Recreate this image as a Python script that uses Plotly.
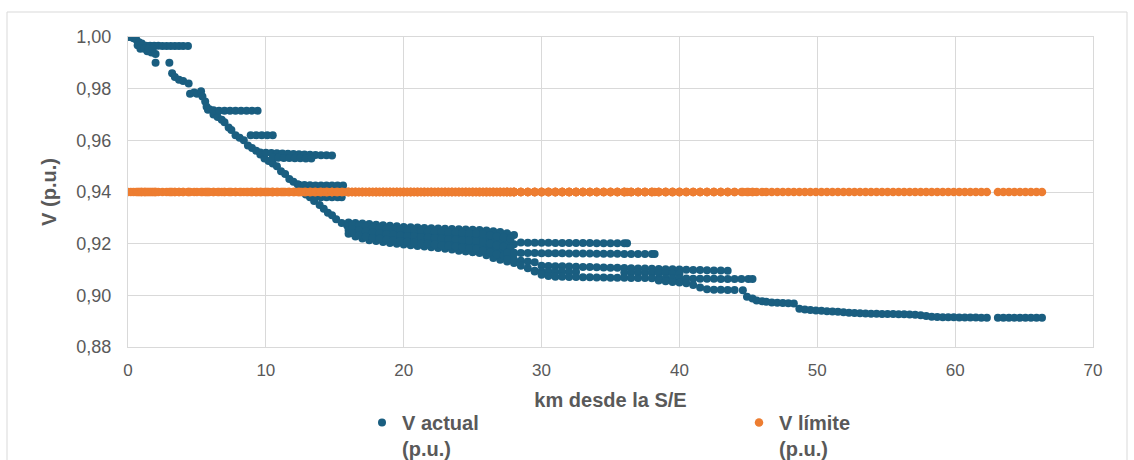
import plotly.graph_objects as go

# ---- data (km from substation, voltage p.u.) ----
km_trunk = [0.0, 0.2, 0.4, 0.6, 0.8, 1.0, 1.2, 1.4, 1.7, 2.0, 2.0, 3.0, 3.2, 3.4, 3.7, 4.0, 4.4, 4.5, 4.8, 5.0,
            5.3, 5.4, 5.6, 5.7, 5.9, 6.2, 6.5, 6.8, 7.0, 7.3, 7.5, 7.8, 8.1, 8.4, 8.7, 9.0, 9.3, 9.6, 9.9, 10.2,
            10.5, 10.8, 11.1, 11.4, 11.7, 12.0, 12.3, 12.6, 12.9, 13.2, 13.5, 13.9, 14.2, 14.5, 14.8, 15.1, 15.5, 15.9]
v_trunk = [1.000, 1.000, 0.9995, 0.999, 0.998, 0.9975, 0.996, 0.9945, 0.994, 0.9934, 0.990, 0.990, 0.986, 0.9845, 0.9835, 0.983, 0.982, 0.978, 0.9785, 0.978,
           0.979, 0.977, 0.975, 0.973, 0.972, 0.970, 0.969, 0.968, 0.967, 0.965, 0.964, 0.962, 0.961, 0.960, 0.958, 0.957, 0.956, 0.9545, 0.953, 0.952,
           0.951, 0.950, 0.948, 0.947, 0.945, 0.944, 0.943, 0.941, 0.939, 0.938, 0.9365, 0.935, 0.9335, 0.932, 0.931, 0.9295, 0.928, 0.927]

km_b1 = [0.7, 1.0, 1.3, 1.6, 1.9, 2.2, 2.5, 2.8, 3.1, 3.4, 3.7, 4.0, 4.35, 0.9, 1.2, 1.5, 1.8]
v_b1 = [0.9968, 0.9967, 0.9966, 0.9966, 0.9966, 0.9966, 0.9965, 0.9965, 0.9965, 0.9965, 0.9965, 0.9965, 0.9965,
        0.9955, 0.9955, 0.9955, 0.9955]

km_b2 = [5.8, 6.2, 6.6, 7.0, 7.4, 7.8, 8.2, 8.6, 9.0, 9.4]
v_b2 = [0.9718, 0.9716, 0.9715, 0.9715, 0.9715, 0.9715, 0.9715, 0.9715, 0.9715, 0.9715]

km_b3 = [8.9, 9.3, 9.7, 10.1, 10.5]
v_b3 = [0.9620, 0.9620, 0.9620, 0.9620, 0.9620]

km_b4 = [9.6, 10.0, 10.4, 10.8, 11.2, 11.6, 12.0, 12.4, 12.8, 13.2, 13.6, 14.0, 14.4, 14.8,
         10.5, 10.9, 11.3, 11.7, 12.1, 12.5, 12.9, 13.3]
v_b4 = [0.9553, 0.9552, 0.9551, 0.9550, 0.9549, 0.9548, 0.9547, 0.9546, 0.9545, 0.9544, 0.9543, 0.9542, 0.9542, 0.9541,
        0.9533, 0.9533, 0.9532, 0.9532, 0.9531, 0.9531, 0.9530, 0.9530]

km_b5 = [12.4, 12.8, 13.2, 13.6, 14.0, 14.4, 14.8, 15.2, 15.6, 13.6, 14.0, 14.4, 14.8, 15.2, 15.5]
v_b5 = [0.9428, 0.9427, 0.9426, 0.9425, 0.9425, 0.9425, 0.9425, 0.9425, 0.9425, 0.9380, 0.9380, 0.9380, 0.9380, 0.9380, 0.9380]

km_band = [16.0, 16.5, 17.0, 17.5, 18.0, 18.5, 19.0, 19.5, 20.0, 20.5, 21.0, 21.5, 22.0, 22.5, 23.0, 23.5, 24.0,
           24.5, 25.0, 25.5, 26.0, 26.5, 27.0, 27.5, 28.0]
v_band_top = [0.9282, 0.9280, 0.9278, 0.9276, 0.9273, 0.9271, 0.9269, 0.9267, 0.9265, 0.9264, 0.9263, 0.9261, 0.9260,
              0.9259, 0.9258, 0.9257, 0.9256, 0.9255, 0.9254, 0.9253, 0.9251, 0.9248, 0.9245, 0.9240, 0.9234]
v_band_mid1 = [0.9267, 0.9263, 0.9259, 0.9255, 0.9252, 0.9249, 0.9247, 0.9245, 0.9242, 0.9241, 0.9239, 0.9237, 0.9235,
               0.9234, 0.9232, 0.9230, 0.9228, 0.9227, 0.9225, 0.9223, 0.9219, 0.9214, 0.9209, 0.9204, 0.9198]
v_band_mid2 = [0.9253, 0.9245, 0.9239, 0.9234, 0.9231, 0.9228, 0.9225, 0.9222, 0.9220, 0.9217, 0.9215, 0.9213, 0.9211,
               0.9208, 0.9206, 0.9204, 0.9201, 0.9198, 0.9196, 0.9194, 0.9187, 0.9179, 0.9174, 0.9167, 0.9161]
v_band_bot = [0.9238, 0.9228, 0.9220, 0.9213, 0.9210, 0.9206, 0.9203, 0.9200, 0.9197, 0.9194, 0.9191, 0.9189, 0.9186,
              0.9183, 0.9180, 0.9177, 0.9173, 0.9170, 0.9167, 0.9164, 0.9155, 0.9145, 0.9138, 0.9131, 0.9125]

km_band_half = [16.25, 16.75, 17.25, 17.75, 18.25, 18.75, 19.25, 19.75, 20.25, 20.75, 21.25, 21.75, 22.25, 22.75,
                23.25, 23.75, 24.25, 24.75, 25.25, 25.75, 26.25, 26.75, 27.25, 27.75]
v_half_a = [0.9273, 0.9270, 0.9267, 0.9264, 0.9261, 0.9259, 0.9257, 0.9255, 0.9253, 0.9252, 0.9250, 0.9248, 0.9247,
            0.9246, 0.9244, 0.9243, 0.9242, 0.9240, 0.9239, 0.9237, 0.9233, 0.9229, 0.9225, 0.9219]
v_half_b = [0.9257, 0.9252, 0.9247, 0.9243, 0.9240, 0.9237, 0.9235, 0.9232, 0.9230, 0.9228, 0.9226, 0.9224, 0.9222,
            0.9220, 0.9218, 0.9216, 0.9214, 0.9212, 0.9210, 0.9206, 0.9200, 0.9194, 0.9189, 0.9183]
v_half_c = [0.9241, 0.9233, 0.9227, 0.9222, 0.9219, 0.9216, 0.9213, 0.9210, 0.9207, 0.9204, 0.9202, 0.9200, 0.9197,
            0.9194, 0.9192, 0.9189, 0.9186, 0.9183, 0.9180, 0.9175, 0.9167, 0.9159, 0.9153, 0.9146]

km_r1 = [28.5, 29.0, 29.5, 30.0, 30.5, 31.0, 31.5, 32.0, 32.5, 33.0, 33.5, 34.0, 34.5, 35.0, 35.5, 36.0, 36.2]
v_r1 = [0.9205, 0.9204, 0.9204, 0.9204, 0.9204, 0.9203, 0.9203, 0.9203, 0.9203, 0.9203, 0.9203, 0.9202, 0.9202,
        0.9202, 0.9202, 0.9202, 0.9202]

km_r2 = [27.5, 28.0, 28.5, 29.0, 29.5, 30.0, 30.5, 31.0, 31.5, 32.0, 32.5, 33.0, 33.5, 34.0, 34.5, 35.0, 35.5,
         36.0, 36.5, 37.0, 37.5, 38.0, 38.2]
v_r2 = [0.9165, 0.9165, 0.9164, 0.9164, 0.9164, 0.9163, 0.9163, 0.9163, 0.9163, 0.9162, 0.9162, 0.9162, 0.9162,
        0.9161, 0.9161, 0.9161, 0.9161, 0.9160, 0.9160, 0.9160, 0.9160, 0.9160, 0.9160]

km_r3 = [27.5, 28.0, 28.5, 29.0, 29.5]
v_r3 = [0.9140, 0.9137, 0.9134, 0.9131, 0.9128]

km_r4 = [30.0, 30.5, 31.0, 31.5, 32.0, 32.5, 33.0, 33.5, 34.0, 34.5, 35.0, 35.5, 36.0, 36.5, 37.0, 37.5, 38.0,
         38.5, 39.0, 39.5, 40.0, 40.5, 41.0, 41.5, 42.0, 42.5, 43.0, 43.5]
v_r4 = [0.9115, 0.9114, 0.9113, 0.9113, 0.9112, 0.9111, 0.9110, 0.9110, 0.9109, 0.9108, 0.9107, 0.9107, 0.9106,
        0.9105, 0.9104, 0.9104, 0.9103, 0.9102, 0.9101, 0.9101, 0.9100, 0.9099, 0.9098, 0.9098, 0.9097, 0.9096,
        0.9096, 0.9095]

km_r5 = [29.5, 30.0, 30.5, 31.0, 31.5, 32.0, 32.5, 36.0, 36.5, 37.0, 37.5, 38.0, 38.5, 39.0, 39.5, 40.0]
v_r5 = [0.9092, 0.9092, 0.9092, 0.9091, 0.9091, 0.9090, 0.9090, 0.9088, 0.9088, 0.9088, 0.9087, 0.9087, 0.9086,
        0.9086, 0.9085, 0.9085]

km_r6 = [28.5, 29.0, 29.5, 30.0, 30.5, 31.0, 31.5, 32.0, 32.5, 33.0, 33.5, 34.0, 34.5, 35.0, 35.5, 36.0, 36.5,
         37.0, 37.5, 38.0, 38.5, 39.0, 39.5, 40.0, 40.5, 41.0, 41.5, 42.0, 42.5, 43.0, 43.5, 44.0, 44.5, 45.0, 45.3]
v_r6 = [0.9115, 0.9105, 0.9095, 0.9080, 0.9075, 0.9072, 0.9072, 0.9071, 0.9071, 0.9070, 0.9070, 0.9069, 0.9069,
        0.9068, 0.9068, 0.9068, 0.9067, 0.9067, 0.9067, 0.9066, 0.9066, 0.9066, 0.9065, 0.9065, 0.9065, 0.9064,
        0.9064, 0.9064, 0.9064, 0.9063, 0.9063, 0.9063, 0.9063, 0.9063, 0.9063]

km_r7 = [38.5, 39.0, 39.5, 40.0, 40.5, 41.0, 41.5, 42.0, 42.5, 43.0, 43.5, 44.0, 44.6]
v_r7 = [0.9057, 0.9055, 0.9052, 0.9050, 0.9047, 0.9040, 0.9030, 0.9024, 0.9022, 0.9022, 0.9021, 0.9021, 0.9020]

km_tail = [44.9, 45.3, 45.6, 46.0, 46.3, 46.7, 47.1, 47.5, 47.9, 48.3, 48.7, 49.1, 49.5, 49.9, 50.3, 50.7, 51.1,
           51.5, 51.9, 52.3, 52.7, 53.1, 53.5, 53.9, 54.3, 54.7, 55.1, 55.5, 55.9, 56.3, 56.7, 57.1, 57.5, 57.9,
           58.3, 58.7, 59.1, 59.5, 59.9, 60.3, 60.7, 61.1, 61.5, 61.9, 62.3, 63.1, 63.5, 63.9, 64.3, 64.7, 65.1,
           65.5, 65.9, 66.3]
v_tail = [0.8995, 0.8988, 0.8980, 0.8977, 0.8975, 0.8972, 0.8971, 0.8970, 0.8969, 0.8968, 0.8948, 0.8945, 0.8943,
          0.8941, 0.8940, 0.8938, 0.8937, 0.8936, 0.8935, 0.8933, 0.8932, 0.8931, 0.8930, 0.8929, 0.8929, 0.8928,
          0.8928, 0.8928, 0.8927, 0.8927, 0.8926, 0.8925, 0.8923, 0.8920, 0.8917, 0.8916, 0.8915, 0.8915, 0.8915,
          0.8914, 0.8914, 0.8914, 0.8914, 0.8913, 0.8913, 0.8913, 0.8913, 0.8913, 0.8913, 0.8913, 0.8913, 0.8913,
          0.8913, 0.8913]

V_LIMIT = 0.94

km_actual = (km_trunk + km_b1 + km_b2 + km_b3 + km_b4 + km_b5 + km_band * 4 + km_band_half * 3 + km_r1 + km_r2
             + km_r3 + km_r4 + km_r5 + km_r6 + km_r7 + km_tail)
v_actual = (v_trunk + v_b1 + v_b2 + v_b3 + v_b4 + v_b5 + v_band_top + v_band_mid1 + v_band_mid2 + v_band_bot
            + v_half_a + v_half_b + v_half_c
            + v_r1 + v_r2 + v_r3 + v_r4 + v_r5 + v_r6 + v_r7 + v_tail)

km_limit = sorted(km_actual)
v_limit = [V_LIMIT for _ in km_limit]

x_ticks = [0, 10, 20, 30, 40, 50, 60, 70]
y_ticks = [0.88, 0.90, 0.92, 0.94, 0.96, 0.98, 1.00]

BLUE = "#1A5E80"
ORANGE = "#ED7D31"
TXT = "#595959"
GRID = "#D9D9D9"
FONT = "Liberation Sans, Arial, sans-serif"

fig = go.Figure()
fig.add_trace(go.Scatter(x=km_actual, y=v_actual, mode="markers", name="V actual<br>(p.u.)", legend="legend",
                         marker=dict(color=BLUE, size=8, line=dict(width=0))))
fig.add_trace(go.Scatter(x=km_limit, y=v_limit, mode="markers", name="V límite<br>(p.u.)", legend="legend2",
                         marker=dict(color=ORANGE, size=8.5, line=dict(width=0))))

leg_common = dict(orientation="v", xanchor="left", yanchor="top", valign="top",
                  font=dict(family=FONT, size=20, color=TXT, weight="bold"),
                  bgcolor="rgba(0,0,0,0)", borderwidth=0)

fig.update_layout(
    width=1134, height=460,
    margin=dict(l=128, r=41, t=37, b=113, autoexpand=False),
    paper_bgcolor="white", plot_bgcolor="white",
    separators=",.",
    font=dict(family=FONT, color=TXT, size=17),
    showlegend=True,
    legend=dict(x=(362 - 128) / 965, y=(347 - 403) / 310, **leg_common),
    legend2=dict(x=(739 - 128) / 965, y=(347 - 403) / 310, **leg_common),
    xaxis=dict(range=[0, 70], tickvals=x_ticks, showgrid=True, gridcolor=GRID, gridwidth=1,
               zeroline=False, showline=True, linecolor=GRID, mirror=True,
               ticks="", ticklabelstandoff=8, tickfont=dict(size=17, color=TXT),
               title=dict(text="km desde la S/E", standoff=13,
                          font=dict(size=20, color=TXT, family=FONT, weight="bold"))),
    yaxis=dict(range=[0.88, 1.00], tickvals=y_ticks, tickformat=".2f", showgrid=True, gridcolor=GRID,
               gridwidth=1, zeroline=False, showline=True, linecolor=GRID, mirror=True,
               ticks="", ticklabelstandoff=12, tickfont=dict(size=18, color=TXT),
               title=dict(text="V (p.u.)", standoff=14,
                          font=dict(size=20, color=TXT, family=FONT, weight="bold"))),
    shapes=[dict(type="rect", xref="paper", yref="paper",
                 x0=(7 - 128) / 965, x1=(1127 - 128) / 965,
                 y0=(347 - 475) / 310, y1=(347 - 12) / 310,
                 line=dict(color=GRID, width=1), fillcolor="rgba(0,0,0,0)", layer="below")],
)

fig.write_html("out.html")
